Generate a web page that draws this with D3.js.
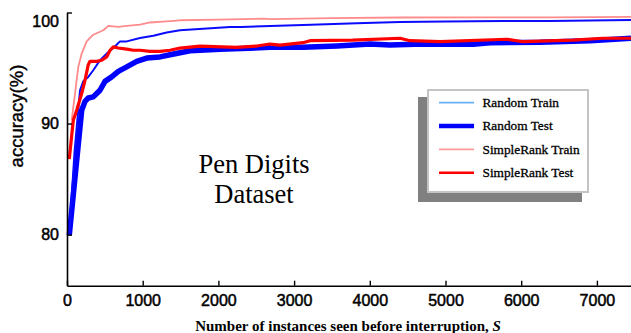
<!DOCTYPE html>
<html><head><meta charset="utf-8">
<script src="https://cdn.jsdelivr.net/npm/d3@7/dist/d3.min.js"></script>
<style>body{margin:0;background:#fff}svg{display:block}</style>
</head><body>
<svg id="c" width="631" height="333"></svg>
<script>
// ---- data ----
const xTicks = [0,1000,2000,3000,4000,5000,6000,7000];
const yTicks = [80,90,100];
const seriesNames = ["Random Train","Random Test","SimpleRank Train","SimpleRank Test"];
const randomTrain = [[30,80.0],[100,87.5],[172,93.0],[215,93.8],[281,94.2],[347,94.8],[436,95.7],[524,96.3],[612,96.8],[700,97.4],[789,97.4],[964,97.7],[1140,97.9],[1317,98.2],[1493,98.4],[2153,98.7],[2300,98.7],[3118,98.87],[3827,99.03],[4399,99.15],[5000,99.2],[5760,99.23],[6380,99.23],[7450,99.32]];
const randomTest = [[30,79.95],[194,91.2],[238,92.0],[281,92.3],[347,92.4],[392,92.7],[436,93.0],[502,93.8],[590,94.2],[678,94.7],[789,95.1],[921,95.6],[1053,95.9],[1229,96.0],[1361,96.2],[1625,96.56],[2021,96.68],[2682,96.86],[3118,96.86],[3567,96.98],[4003,97.16],[4267,97.07],[4703,97.16],[5363,97.13],[5588,97.28],[6248,97.32],[6909,97.46],[7450,97.68]];
const simpleTrain = [[62,90.3],[106,92.7],[149,95.1],[194,96.3],[260,97.4],[347,98.0],[480,98.4],[546,98.8],[678,98.7],[789,98.8],[964,98.9],[1096,99.1],[1317,99.2],[1493,99.3],[2000,99.35],[2589,99.45],[2700,99.4],[3500,99.5],[4399,99.55],[5500,99.57],[6380,99.57],[7450,99.6]];
const simpleTest = [[30,86.8],[83,90.3],[128,91.2],[194,92.7],[238,93.9],[281,95.3],[304,95.6],[392,95.6],[458,95.7],[524,96.0],[568,96.6],[612,96.9],[678,96.8],[789,96.7],[876,96.6],[964,96.6],[1096,96.5],[1229,96.5],[1361,96.6],[1493,96.8],[1757,96.98],[2242,96.86],[2506,96.98],[2682,97.16],[2814,97.07],[3118,97.28],[3210,97.46],[3778,97.52],[4399,97.68],[4531,97.46],[4927,97.37],[5812,97.59],[6024,97.37],[6684,97.52],[7081,97.68],[7450,97.68]];

// ---- layout ----
const svg = d3.select("#c");
const x = d3.scaleLinear().domain([0,7500]).range([67,634.75]);
const y = d3.scaleLinear().domain([75.4,100]).range([285.7,12.5]);

const line = d3.line().x(d=>x(d[0])).y(d=>y(d[1]));

const styles = {
  "Random Train": {plot:"#0a0aff", legend:"#66b0f5", w:2},
  "Random Test": {plot:"#0000ff", legend:"#0000ff", w:5.5},
  "SimpleRank Train": {plot:"#ff8c8c", legend:"#ff9a9a", w:1.8},
  "SimpleRank Test": {plot:"#ff0000", legend:"#ff0000", w:3.2}
};
const dataMap = {"Random Train":randomTrain,"Random Test":randomTest,"SimpleRank Train":simpleTrain,"SimpleRank Test":simpleTest};
const drawOrder = ["Random Test","Random Train","SimpleRank Train","SimpleRank Test"];

drawOrder.forEach(n=>{
  svg.append("path").datum(dataMap[n]).attr("d",line)
    .attr("fill","none").attr("stroke",styles[n].plot)
    .attr("stroke-width",styles[n].w).attr("stroke-linejoin","round");
});

const sans = "'Liberation Sans',Arial,sans-serif";
const serif = "'Liberation Serif','Times New Roman',serif";

// axes
const xAxis = d3.axisBottom(x).tickValues(xTicks).tickFormat(d3.format("d")).tickSizeInner(-5).tickSizeOuter(0).tickPadding(9);
const gx = svg.append("g").attr("transform","translate(0,285.7)").call(xAxis);
gx.select(".domain").attr("stroke","#000").attr("stroke-width",1.6);
gx.selectAll(".tick line").attr("stroke","#000").attr("stroke-width",1.4);
gx.selectAll(".tick text").attr("font-family",sans).attr("font-size",16).attr("fill","#000")
  .attr("stroke","#000").attr("stroke-width",0.5);

const yAxis = d3.axisLeft(y).tickValues(yTicks).tickFormat(d3.format("d")).tickSizeInner(-5).tickSizeOuter(0).tickPadding(8);
const gy = svg.append("g").attr("transform","translate(67,0)").call(yAxis);
gy.select(".domain").attr("stroke","#000").attr("stroke-width",1.6);
gy.selectAll(".tick line").attr("stroke","#000").attr("stroke-width",1.4);
gy.selectAll(".tick text").attr("font-family",sans).attr("font-size",16).attr("fill","#000")
  .attr("stroke","#000").attr("stroke-width",0.5);
gy.selectAll(".tick text").filter(d=>d===100).attr("dy","0.85em");

svg.append("text").attr("transform","translate(23,116) rotate(-90)")
  .attr("text-anchor","middle").attr("font-family",sans)
  .attr("font-size",18.5).attr("stroke","#000").attr("stroke-width",0.4).text("accuracy(%)");

const xl = svg.append("text").attr("x",348).attr("y",331).attr("text-anchor","middle")
  .attr("font-family",serif).attr("font-weight","bold").attr("font-size",15);
xl.append("tspan").text("Number of instances seen before interruption, ");
xl.append("tspan").attr("font-style","italic").text("S");

svg.append("text").attr("x",254).attr("y",172.5).attr("text-anchor","middle")
  .attr("font-family",serif).attr("font-size",26.5).text("Pen Digits");
svg.append("text").attr("x",254).attr("y",203).attr("text-anchor","middle")
  .attr("font-family",serif).attr("font-size",26.5).text("Dataset");

// legend
const lg = svg.append("g");
lg.append("rect").attr("x",418).attr("y",97).attr("width",164).attr("height",105).attr("fill","#808080");
lg.append("rect").attr("x",428).attr("y",90).attr("width",160).attr("height",102).attr("fill","#fff").attr("stroke","#c4c4c4").attr("stroke-width",2);
const ly = d3.scalePoint().domain(seriesNames).range([102.7,172.7]);
seriesNames.forEach(n=>{
  lg.append("line").attr("x1",439).attr("x2",474).attr("y1",ly(n)).attr("y2",ly(n))
    .attr("stroke",styles[n].legend).attr("stroke-width",n==="Random Test"?4.5:(n==="SimpleRank Test"?2.6:1.8));
  lg.append("text").attr("x",482.5).attr("y",ly(n)).attr("dy","0.33em")
    .attr("font-family",serif).attr("font-size",13.3).attr("stroke","#000").attr("stroke-width",0.3).text(n);
});
</script>
</body></html>
